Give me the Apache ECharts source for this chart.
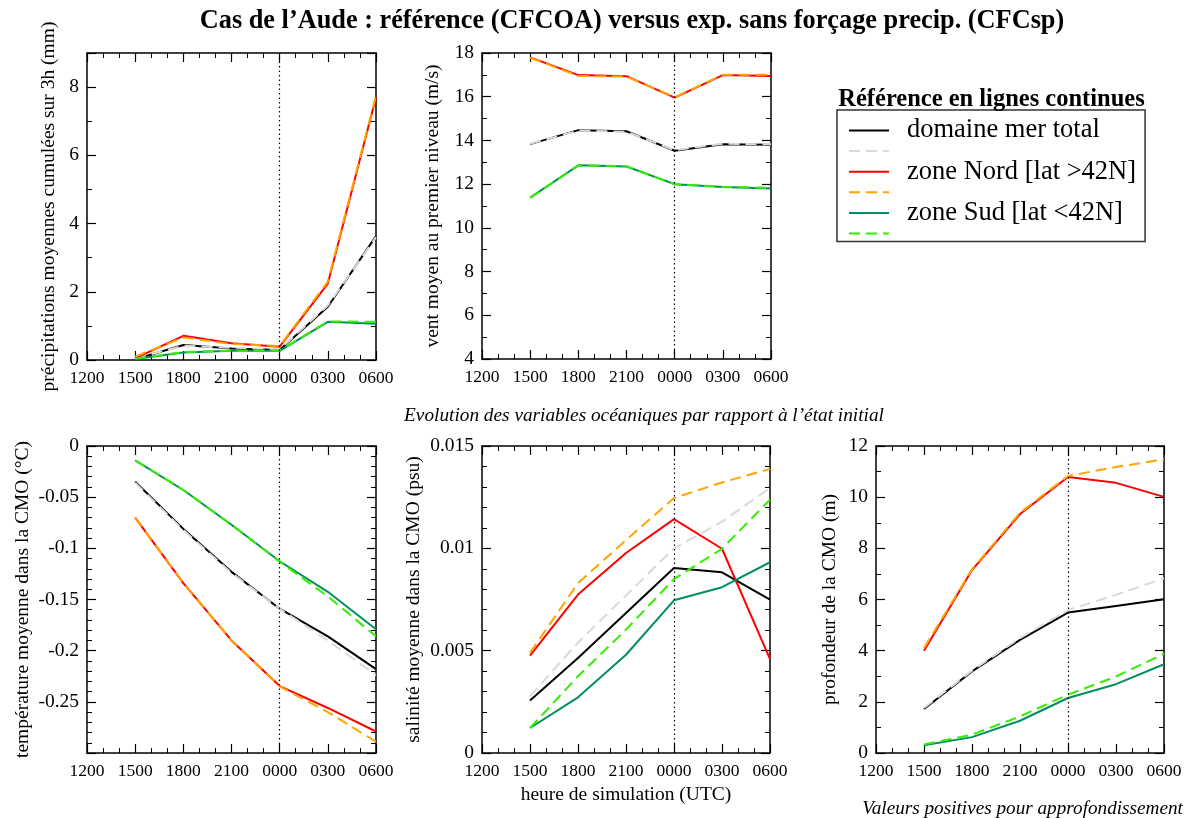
<!DOCTYPE html>
<html lang="fr">
  <head>
    <meta charset="UTF-8" />
    <title>Cas de l'Aude : CFCOA versus CFCsp</title>
    <script src="https://cdn.jsdelivr.net/npm/echarts@6/dist/echarts.min.js"></script>
    <style>
      html, body { margin: 0; background: #fff; }
      #app { width: 1195px; height: 818px; }
    </style>
  </head>
  <body>
    <div id="app"></div>
    <script>
      // heures depuis 1200 UTC
      const hours = [3, 6, 9, 12, 15, 18];
      const tickLabels = ["1200", "1500", "1800", "2100", "0000", "0300", "0600"];

      // précipitations cumulées sur 3h (mm)
      const precipTotalRef = [0.02, 0.44, 0.34, 0.29, 1.56, 3.63];
      const precipTotalSp = [0.05, 0.42, 0.36, 0.31, 1.6, 3.6];
      const precipNordRef = [0.05, 0.71, 0.49, 0.39, 2.24, 7.7];
      const precipNordSp = [0.1, 0.66, 0.47, 0.41, 2.3, 7.75];
      const precipSudRef = [0.03, 0.22, 0.27, 0.27, 1.12, 1.06];
      const precipSudSp = [0.04, 0.23, 0.27, 0.28, 1.13, 1.12];

      // vent au premier niveau (m/s)
      const windTotalRef = [13.83, 14.47, 14.42, 13.53, 13.83, 13.8];
      const windTotalSp = [13.85, 14.45, 14.4, 13.55, 13.85, 13.82];
      const windNordRef = [17.8, 16.99, 16.94, 15.96, 16.99, 16.95];
      const windNordSp = [17.78, 16.95, 16.92, 15.98, 17.0, 17.0];
      const windSudRef = [11.38, 12.86, 12.81, 12.0, 11.87, 11.8];
      const windSudSp = [11.38, 12.86, 12.82, 12.0, 11.88, 11.83];

      // température CMO (°C)
      const tempTotalRef = [-0.035, -0.081, -0.123, -0.159, -0.186, -0.218];
      const tempTotalSp = [-0.036, -0.082, -0.124, -0.159, -0.19, -0.224];
      const tempNordRef = [-0.07, -0.134, -0.19, -0.2346, -0.256, -0.279];
      const tempNordSp = [-0.07, -0.134, -0.19, -0.235, -0.26, -0.289];
      const tempSudRef = [-0.014, -0.043, -0.077, -0.1126, -0.1425, -0.179];
      const tempSudSp = [-0.014, -0.043, -0.077, -0.113, -0.147, -0.186];

      // salinité CMO (psu)
      const salTotalRef = [0.00257, 0.00464, 0.00684, 0.00904, 0.00883, 0.00749];
      const salTotalSp = [0.00277, 0.0054, 0.0077, 0.01, 0.0113, 0.01295];
      const salNordRef = [0.00476, 0.00774, 0.00977, 0.01143, 0.00998, 0.00459];
      const salNordSp = [0.00489, 0.0083, 0.0104, 0.01246, 0.01322, 0.01388];
      const salSudRef = [0.00122, 0.00272, 0.0048, 0.00746, 0.0081, 0.00932];
      const salSudSp = [0.00122, 0.00375, 0.00603, 0.0085, 0.00998, 0.01238];

      // profondeur CMO (m)
      const depthTotalRef = [1.72, 3.19, 4.42, 5.49, 5.75, 6.01];
      const depthTotalSp = [1.76, 3.22, 4.49, 5.59, 6.18, 6.83];
      const depthNordRef = [4.0, 7.15, 9.34, 10.79, 10.56, 10.01];
      const depthNordSp = [4.1, 7.18, 9.39, 10.83, 11.18, 11.48];
      const depthSudRef = [0.3, 0.62, 1.26, 2.15, 2.69, 3.47];
      const depthSudSp = [0.33, 0.72, 1.43, 2.28, 2.99, 3.88];

      const seriesNames = [
        "domaine mer total",
        "domaine mer total (CFCsp)",
        "zone Nord [lat >42N]",
        "zone Nord [lat >42N] (CFCsp)",
        "zone Sud [lat <42N]",
        "zone Sud [lat <42N] (CFCsp)",
      ];
      const seriesColors = ["#000000", "#d9d9d9", "#ff0000", "#ffa500", "#00905f", "#33ee00"];

      const FONT = "Liberation Serif";

      const panels = [
        {
          grid: { left: 87, top: 53, width: 289, height: 307 },
          y: { min: 0, max: 9, interval: 2, minor: 2, name: "précipitations moyennes cumulées sur 3h (mm)", gap: 28, hideMax: true },
          data: [precipTotalRef, precipTotalSp, precipNordRef, precipNordSp, precipSudRef, precipSudSp],
        },
        {
          grid: { left: 482, top: 53, width: 289, height: 306 },
          y: { min: 4, max: 18, interval: 2, minor: 2, name: "vent moyen au premier niveau (m/s)", gap: 39 },
          data: [windTotalRef, windTotalSp, windNordRef, windNordSp, windSudRef, windSudSp],
        },
        {
          grid: { left: 87, top: 446, width: 289, height: 307 },
          y: { min: -0.3, max: 0, interval: 0.05, minor: 5, name: "température moyenne dans la CMO (°C)", gap: 54, hideMin: true },
          data: [tempTotalRef, tempTotalSp, tempNordRef, tempNordSp, tempSudRef, tempSudSp],
        },
        {
          grid: { left: 482, top: 446, width: 288, height: 307 },
          y: { min: 0, max: 0.015, interval: 0.005, minor: 5, name: "salinité moyenne dans la CMO (psu)", gap: 58 },
          data: [salTotalRef, salTotalSp, salNordRef, salNordSp, salSudRef, salSudSp],
          xName: "heure de simulation (UTC)",
        },
        {
          grid: { left: 876, top: 446, width: 288, height: 307 },
          y: { min: 0, max: 12, interval: 2, minor: 2, name: "profondeur de la CMO (m)", gap: 36 },
          data: [depthTotalRef, depthTotalSp, depthNordRef, depthNordSp, depthSudRef, depthSudSp],
        },
      ];

      const frameLine = { show: true, onZero: false, lineStyle: { color: "#000", width: 1.5 } };
      const tickStyle = { show: true, inside: true, length: 9, lineStyle: { color: "#000", width: 1.2 } };
      const minorStyle = (n) => ({ show: true, splitNumber: n, length: 5, lineStyle: { color: "#000", width: 1 } });
      const nameStyle = { fontFamily: FONT, fontSize: 19.5, color: "#000" };

      const grids = [];
      const xAxes = [];
      const yAxes = [];
      const series = [];

      panels.forEach((p, gi) => {
        grids.push(p.grid);

        const xBase = {
          gridIndex: gi, type: "value", min: 0, max: 18, interval: 3,
          splitLine: { show: false }, axisLine: frameLine, axisTick: tickStyle, minorTick: minorStyle(3),
        };
        xAxes.push(Object.assign({}, xBase, {
          position: "bottom",
          axisLabel: { margin: 9, fontFamily: FONT, fontSize: 17.5, color: "#000", formatter: (v) => tickLabels[Math.round(v / 3)] },
          name: p.xName || "",
          nameLocation: "middle",
          nameGap: 32,
          nameTextStyle: nameStyle,
        }));
        xAxes.push(Object.assign({}, xBase, { position: "top", axisLabel: { show: false } }));

        const yBase = {
          gridIndex: gi, type: "value", min: p.y.min, max: p.y.max, interval: p.y.interval,
          splitLine: { show: false }, axisLine: frameLine, axisTick: tickStyle, minorTick: minorStyle(p.y.minor),
        };
        yAxes.push(Object.assign({}, yBase, {
          position: "left",
          axisLabel: {
            margin: 8, fontFamily: FONT, fontSize: 19.5, color: "#000",
            showMaxLabel: !p.y.hideMax,
            showMinLabel: !p.y.hideMin,
          },
          name: p.y.name,
          nameLocation: "middle",
          nameGap: p.y.gap,
          nameTextStyle: nameStyle,
        }));
        yAxes.push(Object.assign({}, yBase, { position: "right", axisLabel: { show: false } }));

        p.data.forEach((vals, si) => {
          const s = {
            name: seriesNames[si],
            type: "line",
            xAxisIndex: gi * 2,
            yAxisIndex: gi * 2,
            data: hours.map((h, i) => [h, vals[i]]),
            symbol: "none",
            silent: true,
            color: seriesColors[si],
            lineStyle: { color: seriesColors[si], width: 2, type: si % 2 ? [11, 6] : "solid" },
          };
          if (si === 0) {
            // repère 0000 UTC
            s.markLine = {
              silent: true,
              symbol: "none",
              label: { show: false },
              lineStyle: { color: "#000", type: [1.5, 3], width: 1.2 },
              data: [{ xAxis: 12 }],
            };
          }
          series.push(s);
        });
      });

      const chart = echarts.init(document.getElementById("app"));

      chart.setOption({
        backgroundColor: "#fff",
        animation: false,
        textStyle: { fontFamily: FONT },
        title: [
          {
            text: "Cas de l\u2019Aude : référence (CFCOA) versus exp. sans forçage precip. (CFCsp)",
            left: 627, top: 3, textAlign: "center",
            textStyle: { fontFamily: FONT, fontSize: 26.3, fontWeight: "bold", color: "#000" },
          },
          {
            text: "Référence en lignes continues",
            left: 986.5, top: 82, textAlign: "center",
            textStyle: { fontFamily: FONT, fontSize: 24.5, fontWeight: "bold", color: "#000" },
          },
          {
            text: "Evolution des variables océaniques par rapport à l\u2019état initial",
            left: 639, top: 401, textAlign: "center",
            textStyle: { fontFamily: FONT, fontSize: 19.3, fontStyle: "italic", fontWeight: "normal", color: "#000" },
          },
          {
            text: "Valeurs positives pour approfondissement",
            left: 1017.5, top: 794, textAlign: "center",
            textStyle: { fontFamily: FONT, fontSize: 19.2, fontStyle: "italic", fontWeight: "normal", color: "#000" },
          },
        ],
        legend: {
          data: seriesNames,
          orient: "vertical",
          left: 837,
          top: 110,
          padding: [7, 9, 0, 11],
          itemWidth: 40,
          itemHeight: 20,
          itemGap: -0.9,
          borderColor: "#333",
          borderWidth: 1.5,
          selectedMode: false,
          itemStyle: { opacity: 0, borderWidth: 0 },
          formatter: (name) => (name.endsWith("(CFCsp)") ? "" : name),
          textStyle: { fontFamily: FONT, fontSize: 26.5, lineHeight: 20, color: "#000", padding: [0, 0, 0, 13] },
        },
        grid: grids,
        xAxis: xAxes,
        yAxis: yAxes,
        series: series,
      });
    </script>
  </body>
</html>
